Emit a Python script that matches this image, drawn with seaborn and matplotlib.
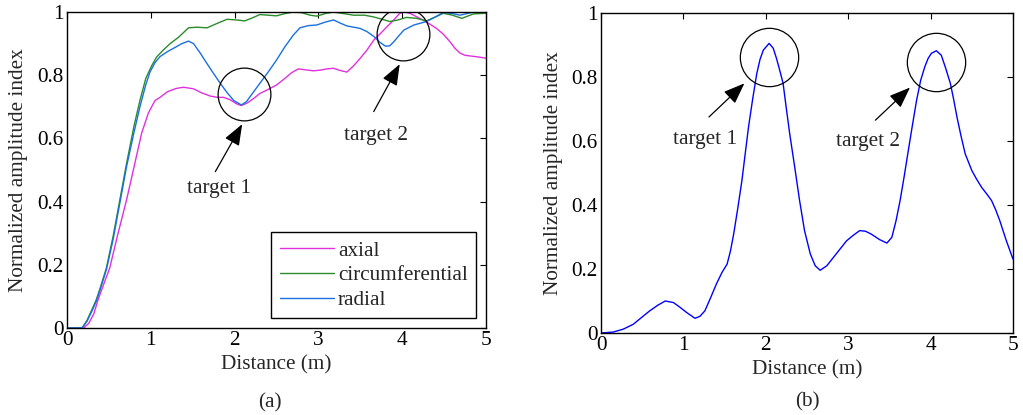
import numpy as np
import pandas as pd
import matplotlib
matplotlib.use("Agg")
import matplotlib.pyplot as plt
from matplotlib.ticker import FuncFormatter, MultipleLocator
import seaborn as sns

# ---------------- data: panel (a), per-component amplitude index ----------------
axial_x = [0, 0.2, 0.26, 0.32, 0.37, 0.44, 0.51, 0.6, 0.71, 0.8, 0.89, 0.97, 1.05, 1.11,
           1.2, 1.3, 1.39, 1.51, 1.6, 1.71, 1.8, 1.87, 1.95, 2.02, 2.08, 2.15, 2.22, 2.3,
           2.4, 2.5, 2.6, 2.68, 2.76, 2.85, 2.94, 3.02, 3.1, 3.18, 3.26, 3.34, 3.42, 3.5,
           3.58, 3.66, 3.74, 3.82, 3.9, 3.97, 4.03, 4.1, 4.21, 4.31, 4.41, 4.49, 4.57,
           4.63, 4.69, 4.75, 4.81, 4.9, 5.0]
axial_y = [0, 0, 0.015, 0.045, 0.089, 0.14, 0.19, 0.29, 0.405, 0.51, 0.616, 0.68, 0.72, 0.73,
           0.748, 0.758, 0.762, 0.757, 0.745, 0.734, 0.73, 0.73, 0.722, 0.71, 0.704, 0.712,
           0.725, 0.742, 0.755, 0.769, 0.79, 0.808, 0.82, 0.817, 0.814, 0.816, 0.82, 0.822,
           0.815, 0.81, 0.83, 0.854, 0.88, 0.911, 0.932, 0.954, 0.975, 0.996, 1.0, 0.995,
           0.98, 0.965, 0.948, 0.93, 0.906, 0.885, 0.87, 0.863, 0.861, 0.858, 0.854]

circ_x = [0, 0.18, 0.24, 0.3, 0.35, 0.4, 0.47, 0.55, 0.63, 0.71, 0.8, 0.87, 0.94, 1.01,
          1.07, 1.15, 1.23, 1.33, 1.45, 1.55, 1.67, 1.8, 1.91, 2.02, 2.12, 2.2, 2.3, 2.4,
          2.5, 2.6, 2.7, 2.8, 2.9, 2.98, 3.08, 3.18, 3.3, 3.42, 3.55, 3.65, 3.75, 3.85,
          3.95, 4.05, 4.17, 4.29, 4.4, 4.49, 4.6, 4.71, 4.85, 5.0]
circ_y = [0, 0, 0.025, 0.06, 0.09, 0.13, 0.19, 0.29, 0.405, 0.52, 0.64, 0.72, 0.79, 0.83,
          0.858, 0.88, 0.9, 0.92, 0.95, 0.952, 0.95, 0.965, 0.977, 0.975, 0.972, 0.98,
          0.992, 0.99, 0.988, 0.995, 1.0, 0.998, 0.99, 0.987, 0.995, 1.0, 0.995, 0.99,
          0.99, 0.985, 0.978, 0.97, 0.975, 0.983, 0.98, 0.972, 0.985, 0.996, 0.99, 0.98,
          0.994, 0.996]

radial_x = [0, 0.18, 0.24, 0.3, 0.35, 0.4, 0.47, 0.55, 0.63, 0.71, 0.8, 0.87, 0.94, 0.99,
            1.05, 1.11, 1.2, 1.27, 1.37, 1.45, 1.51, 1.59, 1.67, 1.75, 1.83, 1.91, 1.99,
            2.08, 2.14, 2.22, 2.3, 2.4, 2.5, 2.6, 2.7, 2.78, 2.88, 2.98, 3.08, 3.18, 3.26,
            3.34, 3.42, 3.5, 3.58, 3.66, 3.73, 3.8, 3.85, 3.9, 3.96, 4.02, 4.14, 4.29, 4.4,
            4.49, 4.6, 4.69, 4.77, 4.85, 5.0]
radial_y = [0, 0, 0.022, 0.055, 0.085, 0.125, 0.185, 0.28, 0.395, 0.51, 0.62, 0.7, 0.77,
            0.81, 0.84, 0.859, 0.875, 0.885, 0.9, 0.908, 0.9, 0.87, 0.837, 0.805, 0.774,
            0.745, 0.72, 0.706, 0.716, 0.745, 0.774, 0.81, 0.848, 0.89, 0.927, 0.95, 0.957,
            0.959, 0.968, 0.975, 0.965, 0.956, 0.952, 0.948, 0.938, 0.923, 0.905, 0.892,
            0.893, 0.906, 0.925, 0.943, 0.959, 0.97, 0.985, 0.999, 0.995, 0.99, 0.995, 1.0,
            1.0]

components = ["axial", "circumferential", "radial"]
component_colors = ["#e030e0", "#2a8c2a", "#1a70e0"]

# ---------------- data: panel (b), combined amplitude index ----------------
fused_x = [0, 0.15, 0.27, 0.39, 0.49, 0.59, 0.69, 0.78, 0.88, 0.96, 1.04, 1.14, 1.2, 1.26,
           1.33, 1.4, 1.47, 1.53, 1.57, 1.61, 1.66, 1.71, 1.75, 1.79, 1.84, 1.89, 1.93,
           1.97, 2.04, 2.09, 2.13, 2.17, 2.21, 2.25, 2.29, 2.35, 2.41, 2.47, 2.54, 2.6,
           2.66, 2.74, 2.82, 2.9, 2.98, 3.06, 3.14, 3.21, 3.28, 3.38, 3.47, 3.53, 3.58,
           3.63, 3.68, 3.73, 3.78, 3.83, 3.88, 3.93, 3.97, 4.01, 4.07, 4.13, 4.18, 4.24,
           4.28, 4.32, 4.37, 4.42, 4.5, 4.56, 4.62, 4.68, 4.74, 4.79, 4.84, 4.92, 5.0]
fused_y = [0, 0.003, 0.012, 0.027, 0.048, 0.069, 0.087, 0.1, 0.095, 0.08, 0.064, 0.046,
           0.052, 0.069, 0.11, 0.153, 0.19, 0.215, 0.255, 0.309, 0.39, 0.476, 0.56, 0.643,
           0.73, 0.81, 0.855, 0.884, 0.905, 0.89, 0.858, 0.82, 0.78, 0.7, 0.623, 0.52,
           0.414, 0.32, 0.247, 0.21, 0.196, 0.21, 0.236, 0.262, 0.288, 0.305, 0.32, 0.318,
           0.309, 0.292, 0.281, 0.299, 0.35, 0.414, 0.49, 0.571, 0.65, 0.727, 0.79, 0.832,
           0.858, 0.874, 0.882, 0.868, 0.83, 0.78, 0.73, 0.675, 0.615, 0.56, 0.508, 0.48,
           0.455, 0.435, 0.414, 0.385, 0.351, 0.288, 0.231]

# target markers: circle centre, arrow tail/head and label position (data units)
targets_a = {
    "target 1": dict(circle=(2.11, 0.74), tail=(1.77, 0.495), head=(2.09, 0.645), label=(1.82, 0.44)),
    "target 2": dict(circle=(4.01, 0.93), tail=(3.66, 0.685), head=(3.97, 0.835), label=(3.69, 0.61)),
}
targets_b = {
    "target 1": dict(circle=(2.04, 0.863), tail=(1.31, 0.675), head=(1.74, 0.78), label=(1.26, 0.604)),
    "target 2": dict(circle=(4.07, 0.847), tail=(3.33, 0.665), head=(3.75, 0.767), label=(3.24, 0.597)),
}

# ---------------- styling ----------------
sns.set_theme(style="white")
plt.rcParams["font.family"] = ["Liberation Serif", "DejaVu Serif"]
FS = 15.3
plt.rcParams["font.size"] = FS
plt.rcParams["axes.edgecolor"] = "black"
plt.rcParams["axes.linewidth"] = 1.0

fig = plt.figure(figsize=(10.23, 4.15), dpi=100)
ax_a = fig.add_axes([0.0655, 0.2096, 0.4096, 0.7614])
ax_b = fig.add_axes([0.5875, 0.1976, 0.4027, 0.7711])

df_a = pd.concat([
    pd.DataFrame({"distance": axial_x, "amplitude": axial_y, "component": "axial"}),
    pd.DataFrame({"distance": circ_x, "amplitude": circ_y, "component": "circumferential"}),
    pd.DataFrame({"distance": radial_x, "amplitude": radial_y, "component": "radial"}),
], ignore_index=True)
df_b = pd.DataFrame({"distance": fused_x, "amplitude": fused_y})

sns.lineplot(data=df_a, x="distance", y="amplitude", hue="component",
             hue_order=components, palette=component_colors, linewidth=1.0, ax=ax_a)
sns.lineplot(data=df_b, x="distance", y="amplitude", color="#0000ff", linewidth=1.0, ax=ax_b)

fmt = FuncFormatter(lambda v, _: f"{v:g}")
for ax, height_px in ((ax_a, 316), (ax_b, 320)):
    ax.set_xlim(0, 5)
    ax.set_ylim(0, 1)
    ax.xaxis.set_major_locator(MultipleLocator(1))
    ax.yaxis.set_major_locator(MultipleLocator(0.2))
    ax.xaxis.set_major_formatter(fmt)
    ax.yaxis.set_major_formatter(fmt)
    ax.tick_params(direction="in", length=4, width=0.8, top=True, right=True,
                   labelsize=FS, pad=2.5, colors="black")
    for s in ax.spines.values():
        s.set_visible(True)
        s.set_color("black")
        s.set_linewidth(1.0)
    ax.set_xlabel("Distance (m)", fontsize=FS)
    ax.set_ylabel("Normalized amplitude index", fontsize=FS)
    ax.xaxis.set_label_coords(0.5, -27.0 / height_px)

ax_a.yaxis.set_label_coords(-0.092, 0.5)
ax_b.yaxis.set_label_coords(-0.092, 0.5)

leg = ax_a.legend(loc="lower right", fontsize=FS, frameon=True, fancybox=False,
                  edgecolor="black", framealpha=1, borderaxespad=0.45, borderpad=0.4,
                  handlelength=2.55, handletextpad=0.2, labelspacing=0.22)
leg.get_frame().set_linewidth(1.0)


def mark_targets(ax, targets, ms):
    for name, t in targets.items():
        ax.plot(*t["circle"], marker="o", ms=ms, mfc="none", mec="black", mew=0.9,
                linestyle="none")
        ax.annotate("", xy=t["head"], xytext=t["tail"],
                    arrowprops=dict(arrowstyle="-|>,head_length=0.65,head_width=0.25",
                                    mutation_scale=20, color="black", lw=0.9,
                                    shrinkA=0, shrinkB=0))
        ax.text(*t["label"], name, ha="center", va="center", fontsize=FS)


mark_targets(ax_a, targets_a, ms=38)
mark_targets(ax_b, targets_b, ms=42)

fig.text(270 / 1023, 1 - 403 / 415, "(a)", ha="center", va="center", fontsize=FS)
fig.text(807 / 1023, 1 - 402 / 415, "(b)", ha="center", va="center", fontsize=FS)

fig.savefig("out.png", dpi=100, facecolor="white")
